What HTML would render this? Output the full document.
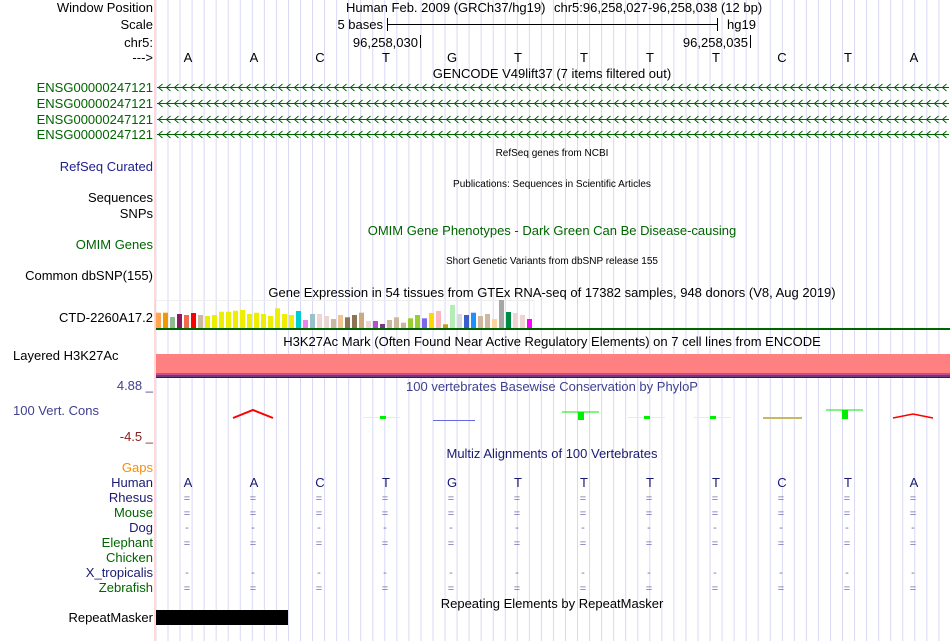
<!DOCTYPE html>
<html><head><meta charset="utf-8"><style>
html,body{margin:0;padding:0;background:#fff;}
svg{display:block;font-family:"Liberation Sans",sans-serif;}
</style></head><body>
<svg width="950" height="641" viewBox="0 0 950 641" xmlns="http://www.w3.org/2000/svg">
<defs>
<pattern id="vl" x="167.5" y="0" width="12.045" height="641" patternUnits="userSpaceOnUse">
<rect x="0" y="0" width="1" height="641" fill="#d8d8f4"/>
</pattern>
<pattern id="a1" x="157" y="82" width="8" height="11" patternUnits="userSpaceOnUse">
<path d="M5.5 2 L1.5 5.5 L5.5 9" stroke="#006400" stroke-width="1" fill="none"/>
</pattern>
<pattern id="a2" x="157" y="98" width="8" height="11" patternUnits="userSpaceOnUse">
<path d="M5.5 2 L1.5 5.5 L5.5 9" stroke="#006400" stroke-width="1" fill="none"/>
</pattern>
<pattern id="a3" x="157" y="114" width="8" height="11" patternUnits="userSpaceOnUse">
<path d="M5.5 2 L1.5 5.5 L5.5 9" stroke="#006400" stroke-width="1" fill="none"/>
</pattern>
<pattern id="a4" x="157" y="129" width="8" height="11" patternUnits="userSpaceOnUse">
<path d="M5.5 2 L1.5 5.5 L5.5 9" stroke="#006400" stroke-width="1" fill="none"/>
</pattern>
</defs>
<rect x="156" y="0" width="794" height="641" fill="url(#vl)"/>
<rect x="154.5" y="0" width="1" height="641" fill="#ffb0b0"/>

<g font-size="13" text-anchor="end" fill="#000">
<text x="153" y="12">Window Position</text>
<text x="153" y="29">Scale</text>
<text x="153" y="47">chr5:</text>
<text x="153" y="62">---&gt;</text>
<g fill="#006400">
<text x="153" y="92">ENSG00000247121</text>
<text x="153" y="108">ENSG00000247121</text>
<text x="153" y="124">ENSG00000247121</text>
<text x="153" y="139">ENSG00000247121</text>
</g>
<text x="153" y="171" fill="#202090">RefSeq Curated</text>
<text x="153" y="202">Sequences</text>
<text x="153" y="218">SNPs</text>
<text x="153" y="249" fill="#006400">OMIM Genes</text>
<text x="153" y="280">Common dbSNP(155)</text>
<text x="153" y="322">CTD-2260A17.2</text>
<text x="153" y="390" fill="#404090">4.88 _</text>
<text x="153" y="441" fill="#8b2020">-4.5 _</text>
<text x="153" y="472" fill="#ff8c00">Gaps</text>
<g fill="#1a1a70">
<text x="153" y="487">Human</text>
<text x="153" y="502">Rhesus</text>
<text x="153" y="532">Dog</text>
<text x="153" y="577">X_tropicalis</text>
</g>
<g fill="#006400">
<text x="153" y="517">Mouse</text>
<text x="153" y="547">Elephant</text>
<text x="153" y="562">Chicken</text>
<text x="153" y="592">Zebrafish</text>
</g>
<text x="153" y="622">RepeatMasker</text>
</g>
<text x="13" y="360" font-size="13">Layered H3K27Ac</text>
<text x="13" y="415" font-size="13" fill="#404090">100 Vert. Cons</text>

<g font-size="13">
<text x="346" y="12">Human Feb. 2009 (GRCh37/hg19)</text>
<text x="554" y="12">chr5:96,258,027-96,258,038 (12 bp)</text>
<text x="383" y="29" text-anchor="end">5 bases</text>
<text x="727" y="29">hg19</text>
<text x="418" y="47" text-anchor="end">96,258,030</text>
<text x="748" y="47" text-anchor="end">96,258,035</text>
</g>
<g stroke="#000" stroke-width="1">
<line x1="387.5" y1="24.5" x2="717.5" y2="24.5"/>
<line x1="387.5" y1="18" x2="387.5" y2="31"/>
<line x1="717.5" y1="18" x2="717.5" y2="31"/>
<line x1="420.5" y1="35" x2="420.5" y2="48"/>
<line x1="750.5" y1="35" x2="750.5" y2="48"/>
</g>
<g font-size="13" text-anchor="middle">
<text x="188" y="62">A</text><text x="254" y="62">A</text><text x="320" y="62">C</text><text x="386" y="62">T</text><text x="452" y="62">G</text><text x="518" y="62">T</text><text x="584" y="62">T</text><text x="650" y="62">T</text><text x="716" y="62">T</text><text x="782" y="62">C</text><text x="848" y="62">T</text><text x="914" y="62">A</text>
</g>
<g text-anchor="middle" font-size="13">
<text x="552" y="78">GENCODE V49lift37 (7 items filtered out)</text>
<text x="552" y="235" fill="#006400">OMIM Gene Phenotypes - Dark Green Can Be Disease-causing</text>
<text x="552" y="297">Gene Expression in 54 tissues from GTEx RNA-seq of 17382 samples, 948 donors (V8, Aug 2019)</text>
<text x="552" y="346">H3K27Ac Mark (Often Found Near Active Regulatory Elements) on 7 cell lines from ENCODE</text>
<text x="552" y="391" fill="#404090">100 vertebrates Basewise Conservation by PhyloP</text>
<text x="552" y="458" fill="#1a1a70">Multiz Alignments of 100 Vertebrates</text>
<text x="552" y="608">Repeating Elements by RepeatMasker</text>
</g>
<g text-anchor="middle" font-size="10">
<text x="552" y="156">RefSeq genes from NCBI</text>
<text x="552" y="187">Publications: Sequences in Scientific Articles</text>
<text x="552" y="264">Short Genetic Variants from dbSNP release 155</text>
</g>

<g>
<rect x="157" y="87" width="792" height="1" fill="#006400"/>
<rect x="157" y="82" width="792" height="11" fill="url(#a1)"/>
<rect x="157" y="103" width="792" height="1" fill="#006400"/>
<rect x="157" y="98" width="792" height="11" fill="url(#a2)"/>
<rect x="157" y="119" width="792" height="1" fill="#006400"/>
<rect x="157" y="114" width="792" height="11" fill="url(#a3)"/>
<rect x="157" y="134" width="792" height="1" fill="#006400"/>
<rect x="157" y="129" width="792" height="11" fill="url(#a4)"/>
</g>

<rect x="156" y="300.5" width="378" height="28" fill="none" stroke="#eeeeee"/>
<g>
<rect x="156" y="312.7" width="5" height="15.3" fill="#FFA54F"/>
<rect x="163" y="312.7" width="5" height="15.3" fill="#EE9A00"/>
<rect x="170" y="317" width="5" height="11" fill="#8FBC8F"/>
<rect x="177" y="314" width="5" height="14" fill="#8B1C62"/>
<rect x="184" y="315" width="5" height="13" fill="#EE6A50"/>
<rect x="191" y="313" width="5" height="15" fill="#FF0000"/>
<rect x="198" y="315" width="5" height="13" fill="#CDB79E"/>
<rect x="205" y="316" width="5" height="12" fill="#EEEE00"/>
<rect x="212" y="315" width="5" height="13" fill="#EEEE00"/>
<rect x="219" y="311.7" width="5" height="16.3" fill="#EEEE00"/>
<rect x="226" y="311.7" width="5" height="16.3" fill="#EEEE00"/>
<rect x="233" y="310.7" width="5" height="17.3" fill="#EEEE00"/>
<rect x="240" y="310" width="5" height="18" fill="#EEEE00"/>
<rect x="247" y="314" width="5" height="14" fill="#EEEE00"/>
<rect x="254" y="312.7" width="5" height="15.3" fill="#EEEE00"/>
<rect x="261" y="314" width="5" height="14" fill="#EEEE00"/>
<rect x="268" y="316" width="5" height="12" fill="#EEEE00"/>
<rect x="275" y="308.3" width="5" height="19.7" fill="#EEEE00"/>
<rect x="282" y="314" width="5" height="14" fill="#EEEE00"/>
<rect x="289" y="315" width="5" height="13" fill="#EEEE00"/>
<rect x="296" y="311" width="5" height="17" fill="#00CDCD"/>
<rect x="303" y="320" width="5" height="8" fill="#EE82EE"/>
<rect x="310" y="314" width="5" height="14" fill="#9AC0CD"/>
<rect x="317" y="314" width="5" height="14" fill="#EED5D2"/>
<rect x="324" y="316" width="5" height="12" fill="#EED5D2"/>
<rect x="331" y="319" width="5" height="9" fill="#CDB79E"/>
<rect x="338" y="315" width="5" height="13" fill="#EEC591"/>
<rect x="345" y="317.3" width="5" height="10.7" fill="#8B7355"/>
<rect x="352" y="315" width="5" height="13" fill="#8B7355"/>
<rect x="359" y="312.7" width="5" height="15.3" fill="#CDAA7D"/>
<rect x="366" y="321" width="5" height="7" fill="#EED5D2"/>
<rect x="373" y="321" width="5" height="7" fill="#B452CD"/>
<rect x="380" y="324" width="5" height="4" fill="#7A378B"/>
<rect x="387" y="320" width="5" height="8" fill="#CDB79E"/>
<rect x="394" y="317.3" width="5" height="10.7" fill="#CDB79E"/>
<rect x="401" y="322.7" width="5" height="5.3" fill="#CDB79E"/>
<rect x="408" y="318.3" width="5" height="9.7" fill="#9ACD32"/>
<rect x="415" y="315" width="5" height="13" fill="#9ACD32"/>
<rect x="422" y="318.3" width="5" height="9.7" fill="#7A67EE"/>
<rect x="429" y="313" width="5" height="15" fill="#FFD700"/>
<rect x="436" y="311" width="5" height="17" fill="#FFB6C1"/>
<rect x="443" y="324.3" width="5" height="3.7" fill="#CD9B1D"/>
<rect x="450" y="305" width="5" height="23" fill="#B4EEB4"/>
<rect x="457" y="314" width="5" height="14" fill="#D9D9D9"/>
<rect x="464" y="315" width="5" height="13" fill="#3A5FCD"/>
<rect x="471" y="312.7" width="5" height="15.3" fill="#1E90FF"/>
<rect x="478" y="316" width="5" height="12" fill="#CDB79E"/>
<rect x="485" y="314" width="5" height="14" fill="#CDB79E"/>
<rect x="492" y="319" width="5" height="9" fill="#FFD39B"/>
<rect x="499" y="300" width="5" height="28" fill="#A6A6A6"/>
<rect x="506" y="312" width="5" height="16" fill="#008B45"/>
<rect x="513" y="313" width="5" height="15" fill="#EED5D2"/>
<rect x="520" y="315" width="5" height="13" fill="#EED5D2"/>
<rect x="527" y="319" width="5" height="9" fill="#FF00FF"/>
</g>
<rect x="156" y="328" width="794" height="2" fill="#006400"/>

<rect x="156" y="354" width="794" height="19" fill="#FF8080"/>
<rect x="156" y="373" width="794" height="2" fill="#C84C8C"/>
<rect x="156" y="375" width="794" height="2" fill="#6E3A80"/>
<rect x="156" y="377" width="794" height="1" fill="#3a1a40"/>

<g fill="none">
<path d="M233 418 L253 410 L273 418" stroke="#ff0000" stroke-width="2"/>
<path d="M893 418 L913 414 L933 418" stroke="#ff0000" stroke-width="1.5"/>
<line x1="363" y1="417.5" x2="400" y2="417.5" stroke="#ccffcc"/>
<rect x="380" y="416" width="6" height="3" fill="#00ee00"/>
<line x1="433" y1="420.5" x2="475" y2="420.5" stroke="#6a6ae0"/>
<line x1="562" y1="412" x2="599" y2="412" stroke="#00ee00" stroke-width="1"/>
<rect x="578" y="412" width="6" height="8" fill="#00ee00"/>
<line x1="628" y1="417.5" x2="665" y2="417.5" stroke="#ccffcc"/>
<rect x="644" y="416" width="6" height="3" fill="#00ee00"/>
<line x1="694" y1="417.5" x2="731" y2="417.5" stroke="#ccffcc"/>
<rect x="710" y="416" width="6" height="3" fill="#00ee00"/>
<line x1="763" y1="418" x2="802" y2="418" stroke="#c8b860" stroke-width="2"/>
<line x1="826" y1="410" x2="863" y2="410" stroke="#00ee00" stroke-width="1"/>
<rect x="842" y="410" width="6" height="9" fill="#00ee00"/>
</g>

<g font-size="13" text-anchor="middle" fill="#1a1a70">
<text x="188" y="487">A</text><text x="254" y="487">A</text><text x="320" y="487">C</text><text x="386" y="487">T</text><text x="452" y="487">G</text><text x="518" y="487">T</text><text x="584" y="487">T</text><text x="650" y="487">T</text><text x="716" y="487">T</text><text x="782" y="487">C</text><text x="848" y="487">T</text><text x="914" y="487">A</text>
</g>
<g font-size="11" text-anchor="middle" fill="#7070b0">
<text x="187" y="502">=</text><text x="253" y="502">=</text><text x="319" y="502">=</text><text x="385" y="502">=</text><text x="451" y="502">=</text><text x="517" y="502">=</text><text x="583" y="502">=</text><text x="649" y="502">=</text><text x="715" y="502">=</text><text x="781" y="502">=</text><text x="847" y="502">=</text><text x="913" y="502">=</text>
<text x="187" y="517">=</text><text x="253" y="517">=</text><text x="319" y="517">=</text><text x="385" y="517">=</text><text x="451" y="517">=</text><text x="517" y="517">=</text><text x="583" y="517">=</text><text x="649" y="517">=</text><text x="715" y="517">=</text><text x="781" y="517">=</text><text x="847" y="517">=</text><text x="913" y="517">=</text>
<text x="187" y="531">-</text><text x="253" y="531">-</text><text x="319" y="531">-</text><text x="385" y="531">-</text><text x="451" y="531">-</text><text x="517" y="531">-</text><text x="583" y="531">-</text><text x="649" y="531">-</text><text x="715" y="531">-</text><text x="781" y="531">-</text><text x="847" y="531">-</text><text x="913" y="531">-</text>
<text x="187" y="547">=</text><text x="253" y="547">=</text><text x="319" y="547">=</text><text x="385" y="547">=</text><text x="451" y="547">=</text><text x="517" y="547">=</text><text x="583" y="547">=</text><text x="649" y="547">=</text><text x="715" y="547">=</text><text x="781" y="547">=</text><text x="847" y="547">=</text><text x="913" y="547">=</text>
<text x="187" y="576">-</text><text x="253" y="576">-</text><text x="319" y="576">-</text><text x="385" y="576">-</text><text x="451" y="576">-</text><text x="517" y="576">-</text><text x="583" y="576">-</text><text x="649" y="576">-</text><text x="715" y="576">-</text><text x="781" y="576">-</text><text x="847" y="576">-</text><text x="913" y="576">-</text>
<text x="187" y="592">=</text><text x="253" y="592">=</text><text x="319" y="592">=</text><text x="385" y="592">=</text><text x="451" y="592">=</text><text x="517" y="592">=</text><text x="583" y="592">=</text><text x="649" y="592">=</text><text x="715" y="592">=</text><text x="781" y="592">=</text><text x="847" y="592">=</text><text x="913" y="592">=</text>
</g>

<rect x="156" y="610" width="132" height="15" fill="#000"/>
</svg>
</body></html>
